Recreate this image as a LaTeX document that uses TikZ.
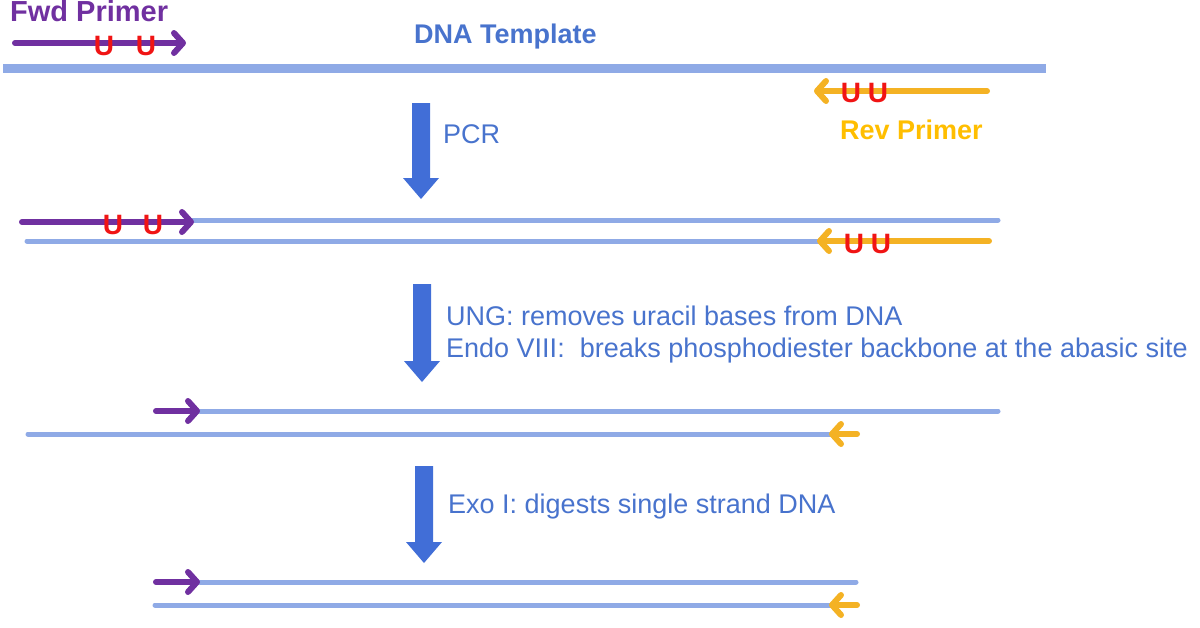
\documentclass[tikz,border=0pt]{standalone}
\usepackage{fontspec}
\setmainfont{Liberation Sans}
\usetikzlibrary{arrows.meta}
\definecolor{fwdpurple}{RGB}{112,48,160}
\definecolor{revorange}{RGB}{244,178,36}
\definecolor{revtext}{RGB}{255,190,0}
\definecolor{txtblue}{RGB}{72,115,205}
\definecolor{bigblue}{RGB}{65,110,215}
\definecolor{strand}{RGB}{143,170,230}
\definecolor{ured}{RGB}{240,20,20}
\newcommand{\bigdownarrow}[3]{%
  \fill[bigblue] (#1-9,#2) -- (#1+9,#2) -- (#1+9,#3-21) -- (#1+18,#3-21) -- (#1,#3) -- (#1-18,#3-21) -- (#1-9,#3-21) -- cycle;}
\begin{document}
\begin{tikzpicture}[x=1pt,y=-1pt,
  template/.style={strand,line width=9pt},
  strandline/.style={strand,line width=5pt,line cap=round},
  fwd/.style={fwdpurple,line width=6pt,line cap=round,line join=round,
    -{Straight Barb[length=9pt,width=20pt,line cap=round,line join=round]}},
  rev/.style={revorange,line width=6pt,line cap=round,line join=round,
    -{Straight Barb[length=9pt,width=20pt,line cap=round,line join=round]}},
  uracil/.style={text=ured,font=\fontsize{28}{28}\selectfont\bfseries,inner sep=0pt},
  label/.style={text=txtblue,font=\fontsize{27}{30}\selectfont,anchor=base west,inner sep=0pt},
  title/.style={font=\fontsize{27}{30}\selectfont\bfseries,inner sep=0pt,anchor=base west}]
\useasboundingbox (0,0) rectangle (1200,627);

% ---- Stage 1: template and primers ----
\node[title,text=fwdpurple,font=\fontsize{29}{30}\selectfont\bfseries] (fwdlbl) at (10,21) {Fwd Primer};
\node[title,text=txtblue] (tmpllbl) at (414,43) {DNA Template};
\node[title,text=revtext] (revlbl) at (840,139) {Rev Primer};
\coordinate (t1a) at (3,68); \coordinate (t1b) at (1046,68);
\draw[template] (t1a) -- (t1b);
\coordinate (f1a) at (15,43); \coordinate (f1b) at (186,43);
\draw[fwd] (f1a) -- (f1b);
\node[uracil] (u1) at (104,46) {U};
\node[uracil] (u2) at (146,46) {U};
\coordinate (r1a) at (987,91); \coordinate (r1b) at (814,91);
\draw[rev] (r1a) -- (r1b);
\node[uracil] (u3) at (851,93) {U};
\node[uracil] (u4) at (878,93) {U};

\bigdownarrow{421}{103}{199}
\node[label] (pcr) at (443,143) {PCR};

% ---- Stage 2: after PCR ----
\coordinate (s2a) at (190,220); \coordinate (s2b) at (998,220);
\draw[strandline] (s2a) -- (s2b);
\coordinate (s2c) at (27,241); \coordinate (s2d) at (830,241);
\draw[strandline] (s2c) -- (s2d);
\coordinate (f2a) at (22,222); \coordinate (f2b) at (194,222);
\draw[fwd] (f2a) -- (f2b);
\node[uracil] (u5) at (113,225) {U};
\node[uracil] (u6) at (153,225) {U};
\coordinate (r2a) at (989,241); \coordinate (r2b) at (817,241);
\draw[rev] (r2a) -- (r2b);
\node[uracil] (u7) at (854,244) {U};
\node[uracil] (u8) at (881,244) {U};

\bigdownarrow{422}{284}{382}
\node[label] (ung) at (446,325) {UNG: removes uracil bases from DNA};
\node[label] (endo) at (446,357) {Endo VIII:\ \ breaks phosphodiester backbone at the abasic site};

% ---- Stage 3: after UNG / Endo VIII ----
\coordinate (s3a) at (200,411); \coordinate (s3b) at (998,411);
\draw[strandline] (s3a) -- (s3b);
\coordinate (s3c) at (28,434); \coordinate (s3d) at (848,434);
\draw[strandline] (s3c) -- (s3d);
\coordinate (f3a) at (156,411); \coordinate (f3b) at (200,411);
\draw[fwd] (f3a) -- (f3b);
\coordinate (r3a) at (857,434); \coordinate (r3b) at (829,434);
\draw[rev] (r3a) -- (r3b);

\bigdownarrow{424}{466}{563}
\node[label] (exo) at (448,513) {Exo I: digests single strand DNA};

% ---- Stage 4: after Exo I ----
\coordinate (s4a) at (200,582); \coordinate (s4b) at (856,582);
\draw[strandline] (s4a) -- (s4b);
\coordinate (s4c) at (155,605); \coordinate (s4d) at (848,605);
\draw[strandline] (s4c) -- (s4d);
\coordinate (f4a) at (156,582); \coordinate (f4b) at (200,582);
\draw[fwd] (f4a) -- (f4b);
\coordinate (r4a) at (857,605); \coordinate (r4b) at (829,605);
\draw[rev] (r4a) -- (r4b);
\end{tikzpicture}
\end{document}
